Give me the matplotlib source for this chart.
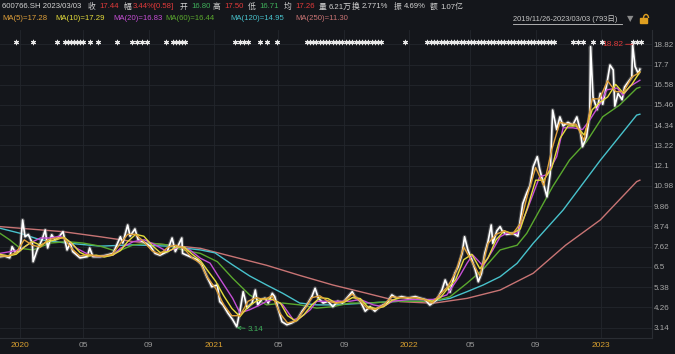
import matplotlib
matplotlib.use("Agg")
import matplotlib.pyplot as plt
import matplotlib.patheffects as pe
from matplotlib.lines import Line2D
from matplotlib.patches import Rectangle, Arc

# ---- data (trading-day index from 2019/11/26) ----
price_day = [0, 6, 12, 15, 19, 25, 28, 31, 35, 40,
             41, 46, 52, 56, 59, 64, 68, 72, 78, 83,
             87, 90, 99, 108, 111, 115, 124, 132, 140, 149,
             152, 158, 161, 167, 171, 177, 186, 192, 198, 207,
             213, 217, 225, 226, 235, 244, 250, 256, 260, 262,
             269, 272, 276, 282, 288, 293, 297, 301, 306, 312,
             316, 319, 324, 328, 332, 337, 340, 344, 349, 355,
             361, 368, 374, 380, 386, 390, 394, 400, 406, 412,
             418, 424, 431, 436, 439, 446, 452, 458, 464, 470,
             479, 485, 491, 497, 505, 514, 520, 526, 532, 541,
             547, 551, 557, 563, 567, 572, 575, 579, 584, 588,
             592, 596, 600, 604, 608, 610, 615, 619, 622, 627,
             635, 641, 644, 647, 652, 656, 660, 665, 668, 677,
             681, 684, 689, 693, 697, 703, 709, 714, 718, 721,
             726, 730, 731, 734, 739, 743, 746, 751, 755, 759,
             761, 765, 770, 773, 777, 782, 783, 786, 790, 792]
price_val = [7.07, 7.10, 7.00, 7.62, 7.30, 7.44, 9.10, 8.17, 8.30, 7.82,
             6.79, 7.44, 8.00, 8.55, 7.55, 8.28, 8.00, 8.10, 8.45, 7.44,
             7.82, 7.35, 7.00, 7.07, 7.55, 7.07, 7.07, 7.15, 7.25, 8.17,
             7.82, 8.82, 8.20, 8.60, 8.00, 7.90, 7.65, 7.25, 7.15, 7.35,
             8.10, 7.35, 8.10, 7.25, 7.07, 6.90, 6.60, 5.96, 5.60, 5.40,
             5.50, 4.58, 4.40, 3.95, 3.58, 3.19, 4.05, 5.13, 4.22, 4.50,
             5.22, 4.40, 4.70, 4.77, 4.50, 5.04, 4.86, 4.22, 3.47, 3.30,
             3.40, 3.58, 4.05, 4.40, 4.86, 5.32, 4.77, 4.50, 4.60, 4.30,
             4.60, 4.50, 4.86, 5.13, 4.86, 4.60, 4.05, 4.30, 4.05, 4.30,
             4.50, 4.95, 4.77, 4.86, 4.77, 4.86, 4.77, 4.70, 4.39, 4.70,
             5.22, 5.78, 5.10, 6.15, 6.50, 7.25, 8.17, 7.45, 6.90, 6.37,
             5.68, 6.15, 7.25, 7.90, 8.82, 7.80, 8.50, 8.73, 8.45, 8.30,
             8.36, 8.20, 9.10, 10.00, 10.60, 11.00, 12.05, 12.60, 11.90, 10.38,
             11.65, 15.18, 14.10, 14.80, 14.30, 14.50, 14.35, 14.80, 14.10, 13.15,
             13.70, 15.00, 18.69, 15.90, 15.20, 16.10, 15.50, 16.60, 17.67, 17.40,
             15.40, 16.10, 15.75, 16.45, 16.70, 17.00, 18.82, 17.60, 17.20, 17.44]

ma_short_day = [0, 10, 20, 30, 40, 50, 59, 69, 79, 89,
                99, 109, 119, 129, 139, 149, 158, 168, 178, 188,
                198, 208, 218, 228, 238, 248, 257, 267, 277, 287,
                297, 307, 317, 327, 337, 347, 356, 366, 376, 386,
                396, 406, 416, 426, 436, 446, 455, 465, 475, 485,
                495, 505, 515, 525, 535, 545, 554, 564, 574, 584,
                594, 604, 614, 624, 634, 644, 653, 663, 673, 683,
                693, 703, 713, 723, 733, 742, 752, 762, 772, 782, 792]
ma5 = [7.1, 7.1, 7.3, 8.0, 7.7, 7.6, 8.0, 8.1, 8.1, 7.5,
       7.1, 7.2, 7.1, 7.1, 7.2, 7.8, 8.3, 8.3, 7.9, 7.4,
       7.2, 7.6, 7.7, 7.5, 7.0, 6.7, 5.9, 5.3, 4.4, 3.8,
       3.8, 4.6, 4.8, 4.7, 4.9, 3.9, 3.4, 3.5, 4.1, 4.8,
       4.9, 4.6, 4.5, 4.6, 5.0, 4.6, 4.2, 4.15, 4.4, 4.85,
       4.8, 4.8, 4.8, 4.7, 4.5, 5.0, 5.4, 6.2, 7.6, 6.8,
       6.0, 7.8, 8.3, 8.5, 8.3, 8.9, 10.5, 12.0, 11.0, 13.0,
       14.5, 14.4, 14.4, 13.5, 15.8, 15.8, 16.8, 16.2, 16.2, 17.0, 17.28]
ma10 = [7.2, 7.1, 7.2, 7.6, 7.9, 7.7, 7.9, 8.0, 8.15, 7.8,
        7.3, 7.1, 7.15, 7.05, 7.15, 7.4, 7.9, 8.3, 8.2, 7.7,
        7.3, 7.35, 7.6, 7.6, 7.2, 6.85, 6.3, 5.7, 4.9, 4.2,
        3.75, 4.3, 4.6, 4.75, 4.7, 4.5, 3.8, 3.5, 3.85, 4.4,
        4.8, 4.75, 4.5, 4.55, 4.8, 4.75, 4.3, 4.2, 4.3, 4.65,
        4.8, 4.8, 4.8, 4.7, 4.6, 4.8, 5.3, 5.8, 6.9, 7.2,
        6.4, 7.0, 8.0, 8.5, 8.35, 8.6, 9.8, 11.3, 11.3, 12.0,
        13.6, 14.3, 14.3, 13.8, 15.2, 15.6, 15.9, 16.6, 16.1, 16.6, 17.29]

ma20_day = [0, 25, 37, 50, 62, 74, 83, 95, 111, 124,
            140, 149, 165, 179, 192, 207, 223, 235, 248, 260,
            269, 288, 297, 309, 322, 330, 338, 350, 363, 371,
            384, 392, 412, 433, 446, 462, 474, 486, 507, 536,
            553, 569, 578, 585, 598, 610, 619, 627, 640, 652,
            668, 677, 689, 697, 709, 721, 730, 743, 751, 764,
            771, 780, 792]
ma20 = [7.25, 7.44, 7.82, 8.1, 8.1, 8.2, 8.0, 7.53, 7.15, 7.07,
        7.15, 7.53, 7.9, 8.0, 7.72, 7.35, 7.63, 7.44, 6.98, 6.71,
        6.07, 4.76, 3.95, 4.13, 4.4, 4.6, 4.7, 4.4, 3.58, 3.67,
        4.13, 4.6, 4.6, 4.6, 4.7, 4.4, 4.3, 4.6, 4.7, 4.7,
        4.95, 6.0, 6.7, 7.17, 6.55, 7.44, 8.17, 8.36, 8.36, 9.6,
        11.5, 11.6, 12.6, 14.2, 14.2, 14.1, 14.63, 15.55, 16.3, 16.4,
        16.0, 16.5, 16.83]

ma60_day = [0, 12, 25, 41, 62, 83, 103, 124, 145, 165,
            186, 207, 226, 248, 269, 288, 309, 330, 350, 371,
            392, 412, 433, 454, 474, 495, 536, 557, 578, 598,
            619, 640, 652, 668, 684, 705, 726, 746, 767, 788, 792]
ma60 = [8.36, 8.0, 7.53, 7.44, 7.82, 7.9, 7.82, 7.65, 7.35, 7.72,
        7.82, 7.72, 7.44, 7.25, 6.79, 5.87, 4.95, 4.4, 4.5, 4.4,
        4.22, 4.3, 4.5, 4.5, 4.55, 4.6, 4.6, 4.85, 5.6, 6.37,
        7.44, 7.7, 8.36, 9.65, 10.94, 12.42, 13.43, 14.81, 15.46, 16.38, 16.44]

ma120_day = [0, 25, 50, 83, 124, 165, 207, 248, 266, 288,
             309, 330, 350, 371, 392, 412, 454, 495, 536, 557,
             578, 598, 619, 640, 660, 697, 743, 788, 792]
ma120 = [8.64, 8.36, 8.0, 7.82, 7.65, 7.72, 7.65, 7.44, 7.28, 6.61,
         6.0, 5.5, 5.04, 4.5, 4.4, 4.4, 4.5, 4.6, 4.6, 4.76,
         5.13, 5.5, 5.96, 6.7, 7.81, 9.65, 12.4, 14.9, 14.95]

ma250_day = [0, 78, 124, 165, 207, 248, 288, 330, 371, 412,
             454, 495, 536, 578, 619, 660, 700, 743, 788, 792]
ma250 = [8.73, 8.45, 8.17, 7.9, 7.72, 7.53, 7.07, 6.59, 6.03, 5.5,
         5.04, 4.58, 4.49, 4.76, 5.22, 6.15, 7.7, 9.1, 11.22, 11.30]

# event markers along the top row
mark_day = [20, 41, 71, 80, 84, 88, 92, 95, 99, 103, 111, 121, 145, 163, 170, 176, 182,
            205, 214, 218, 222, 225, 229, 291, 297, 302, 307, 322, 330, 343,
            380, 384, 387, 391, 396, 400, 403, 407, 412, 416, 420, 423, 428, 432, 436,
            441, 444, 448, 452, 455, 460, 464, 468, 471, 501,
            528, 533, 537, 541, 546, 549, 553, 558, 562, 566, 570, 574, 579, 583, 587,
            592, 595, 599, 604, 608, 611, 616, 620, 624, 629, 632, 636, 641, 645, 648,
            653, 657, 661, 666, 669, 673, 678, 682, 686, 709, 715, 721, 734, 745,
            783, 788, 793]

ytick_vals = [3.14, 4.26, 5.38, 6.5, 7.62, 8.74, 9.86, 10.98, 12.1, 13.22,
              14.34, 15.46, 16.58, 17.7, 18.82]
xtick_days = [25, 103, 184, 265, 344, 426, 506, 582, 663, 744]
xtick_labels = ['2020', '05', '09', '2021', '05', '09', '2022', '05', '09', '2023']

price_min_day, price_min = 293, 3.14
price_max_day, price_max = 783, 18.82

# ---- style ----
BG = '#14161b'
GRID = '#23262c'
C_MA5 = '#e0a03a'
C_MA10 = '#e4dc3c'
C_MA20 = '#c64fd6'
C_MA60 = '#5aa82e'
C_MA120 = '#48c2cc'
C_MA250 = '#c87474'
RED = '#e03a3a'
GREEN = '#3fae5a'
TXT = '#d2d2d2'
FONT = ['Liberation Sans', 'Noto Sans CJK SC', 'DejaVu Sans']

W, H = 675, 354
fig = plt.figure(figsize=(W / 100, H / 100), dpi=100, facecolor=BG)
ax = fig.add_axes([0, 16 / H, 652 / W, 308 / H], facecolor=BG)

ax.set_xlim(0, 807)
ax.set_ylim(2.567, 19.61)

# price with soft halo
ax.plot(price_day, price_val, color='white', lw=1.2, zorder=3,
        path_effects=[pe.Stroke(linewidth=2.8, foreground='#8a8a8a', alpha=0.45), pe.Normal()])

ax.plot(ma250_day, ma250, color=C_MA250, lw=1.0, zorder=2)
ax.plot(ma120_day, ma120, color=C_MA120, lw=1.0, zorder=2)
ax.plot(ma60_day, ma60, color=C_MA60, lw=1.0, zorder=2)
ax.plot(ma20_day, ma20, color=C_MA20, lw=1.0, zorder=4)
ax.plot(ma_short_day, ma10, color=C_MA10, lw=1.0, zorder=4)
ax.plot(ma_short_day, ma5, color=C_MA5, lw=1.0, zorder=4)

ax.scatter(mark_day, [18.95] * len(mark_day), marker=(6, 2, 0), s=10,
           color='#e6e6e6', linewidths=0.8, zorder=5)

# extreme value labels
ax.annotate('3.14', xy=(price_min_day, price_min), xytext=(8, -1),
            textcoords='offset points', color=GREEN, fontsize=5.8,
            family=FONT, va='center', ha='left',
            arrowprops=dict(arrowstyle='->', color=GREEN, lw=0.6, shrinkA=0, shrinkB=0))
ax.annotate('18.82', xy=(price_max_day, price_max), xytext=(-7, 0),
            textcoords='offset points', color=RED, fontsize=6,
            family=FONT, va='center', ha='right', zorder=6,
            arrowprops=dict(arrowstyle='-', color=RED, lw=0.6, shrinkA=0, shrinkB=0))

# axes styling
ax.yaxis.tick_right()
ax.set_yticks(ytick_vals)
ax.set_yticklabels([f'{v:g}' for v in ytick_vals], family=FONT, fontsize=5.8, color='#a8a8a8')
ax.set_xticks(xtick_days)
ax.set_xticklabels(xtick_labels, family=FONT, fontsize=6)
for lab in ax.get_xticklabels():
    lab.set_color('#d9a030' if len(lab.get_text()) == 4 else '#9a9a9a')
ax.tick_params(length=0)
ax.tick_params(axis='x', pad=3)
ax.tick_params(axis='y', pad=1.2)
ax.grid(True, color=GRID, lw=0.6)
ax.set_axisbelow(True)
for side in ['top', 'left']:
    ax.spines[side].set_visible(False)
ax.spines['right'].set_color('#2a2d33')
ax.spines['bottom'].set_color('#2a2d33')


def fx(x):
    return x / W


def fy(y):
    return 1 - y / H


# header line 1
header1 = [(2, '600766.SH 2023/03/03', TXT),
           (88, '收', TXT), (99, '17.44', RED),
           (123, '幅', TXT), (133, '3.44%[0.58]', RED),
           (180, '开', TXT), (191, '16.80', GREEN),
           (213, '高', TXT), (224, '17.50', RED),
           (248, '低', TXT), (259, '16.71', GREEN),
           (284, '均', TXT), (295, '17.26', RED),
           (319, '量', TXT), (329, '6.21万', TXT),
           (352, '换', TXT), (362, '2.771%', TXT),
           (394, '振', TXT), (404, '4.69%', TXT),
           (430, '额', TXT), (440, '1.07亿', TXT)]
for x, s, c in header1:
    fig.text(fx(x), fy(7), s, color=c, fontsize=5.6, family=FONT, va='center', ha='left')

# header line 2: moving average legend
header2 = [(2, 'MA(5)=17.28', C_MA5), (55, 'MA(10)=17.29', C_MA10),
           (113, 'MA(20)=16.83', C_MA20), (165, 'MA(60)=16.44', C_MA60),
           (230, 'MA(120)=14.95', C_MA120), (295, 'MA(250)=11.30', C_MA250)]
for x, s, c in header2:
    fig.text(fx(x), fy(19), s, color=c, fontsize=5.6, family=FONT, va='center', ha='left')

fig.text(fx(513), fy(19), '2019/11/26-2023/03/03 (793日)', color='#c8c8c8',
         fontsize=5.4, family=FONT, va='center', ha='left')
fig.add_artist(Line2D([fx(513), fx(622)], [fy(24), fy(24)], color='#c8c8c8', lw=0.6))
fig.text(fx(627), fy(19), '▼', color='#8a8a8a', fontsize=6,
         family=['DejaVu Sans'], va='center', ha='left')
# lock icon
fig.add_artist(Rectangle((fx(640), fy(23)), 7 / W, 5 / H, color='#e0a020'))
fig.add_artist(Arc((fx(646), fy(18)), 5 / W, 7 / H, theta1=0, theta2=180,
                   color='#e0a020', lw=1.0))

fig.savefig('out.png', dpi=100, facecolor=BG)
